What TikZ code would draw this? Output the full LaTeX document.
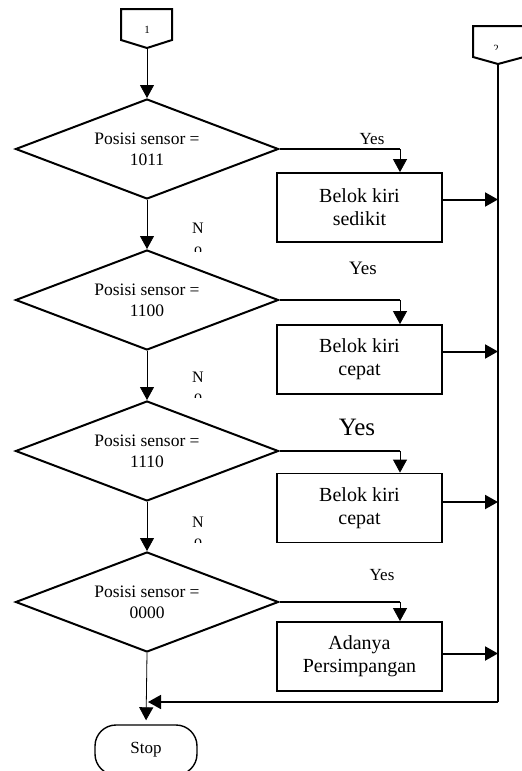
\documentclass[tikz,border=0pt]{standalone}
\usepackage{fontspec}
\setmainfont{Liberation Serif}
\usetikzlibrary{arrows.meta}
\usetikzlibrary{shapes.geometric}

\begin{document}
\begin{tikzpicture}[x=1pt,y=-1pt,
		decision/.style={draw=black,line width=2pt,shape=diamond,aspect=2.63,minimum width=263pt,minimum height=100pt,inner sep=0pt,align=center,font=\fontsize{17.5}{21}\selectfont},
		process/.style={draw=black,line width=1.8pt,minimum width=165pt,minimum height=69pt,inner sep=0pt,align=center,font=\fontsize{20}{23}\selectfont},
		terminal/.style={draw=black,line width=1.4pt,rounded corners=21pt,minimum width=102pt,minimum height=50pt,inner sep=0pt,font=\fontsize{17}{20}\selectfont},
		offpage/.style={draw=black,line width=2pt,line join=miter},
		flow/.style={draw=black,line width=0.8pt,-{Triangle[length=13pt,width=14pt]}},
		thickflow/.style={draw=black,line width=2pt,-{Triangle[length=13pt,width=14pt]}},
		yesline/.style={draw=black,line width=1.7pt},
		label/.style={inner sep=0pt,anchor=base}]

		\useasboundingbox (0,0) rectangle (522,771);

		\draw[offpage] (121,9) -- (172,9) -- (172,40) -- (147,48) -- (121,40) -- cycle;
		\coordinate (c1) at (147,48);
		\node[label,font=\fontsize{11}{13}\selectfont] (n1) at (147,33) {1};

		\draw[offpage] (473,26) -- (524,26) -- (524,57) -- (498,64) -- (473,57) -- cycle;
		\coordinate (c2) at (498,64);
		\begin{scope}
			\clip (480,30) rectangle (515,49);
			\node[label,font=\fontsize{11}{13}\selectfont] (n2) at (496,52) {2};
		\end{scope}

		\node[decision] (d1) at (147,149) {Posisi sensor =\\1011};
		\node[decision] (d2) at (147,300) {Posisi sensor =\\1100};
		\node[decision] (d3) at (147,451) {Posisi sensor =\\1110};
		\node[decision] (d4) at (147,602) {Posisi sensor =\\0000};

		\node[process] (b1) at (359.5,207.5) {Belok kiri\\sedikit};
		\node[process] (b2) at (359.5,359.5) {Belok kiri\\cepat};
		\node[process] (b3) at (359.5,508) {Belok kiri\\cepat};
		\node[process] (b4) at (359.5,656.5) {Adanya\\Persimpangan};

		\node[terminal] (stop) at (146,750) {Stop};

		\draw[flow] (c1) -- (d1.north);
		\draw[flow] (d1.south) -- (d2.north);
		\draw[flow] (d2.south) -- (d3.north);
		\draw[flow] (d3.south) -- (d4.north);
		\draw[flow,shorten >=4pt] (d4.south) -- (stop.north);

		\coordinate (t1) at ([xshift=40.5pt]b1.north);
		\coordinate (t2) at ([xshift=40.5pt]b2.north);
		\coordinate (t3) at ([xshift=40.5pt]b3.north);
		\coordinate (t4) at ([xshift=40.5pt]b4.north);
		\draw[yesline] (d1.east) -- (t1 |- d1.east);
		\draw[flow] (t1 |- d1.east) -- (t1);
		\draw[yesline] (d2.east) -- (t2 |- d2.east);
		\draw[flow] (t2 |- d2.east) -- (t2);
		\draw[yesline] (d3.east) -- (t3 |- d3.east);
		\draw[flow] (t3 |- d3.east) -- (t3);
		\draw[yesline] (d4.east) -- (t4 |- d4.east);
		\draw[flow] (t4 |- d4.east) -- (t4);

		\coordinate (ret) at (498,702);
		\draw[line width=2pt] (c2) -- (ret);
		\draw[thickflow,line width=1.7pt,shorten >=2pt] (ret) -- (ret -| stop.north);

		\coordinate (o1) at ([yshift=8pt]b1.east);
		\coordinate (o2) at ([yshift=8pt]b2.east);
		\coordinate (o3) at ([yshift=6pt]b3.east);
		\coordinate (o4) at ([yshift=3pt]b4.east);
		\draw[thickflow] (o1) -- (o1 -| ret);
		\draw[thickflow] (o2) -- (o2 -| ret);
		\draw[thickflow] (o3) -- (o3 -| ret);
		\draw[thickflow] (o4) -- (o4 -| ret);

		\node[label,font=\fontsize{17}{20}\selectfont] (yes1) at (372,144) {Yes};
		\node[label,font=\fontsize{19}{22}\selectfont] (yes2) at (363,274) {Yes};
		\node[label,font=\fontsize{25}{28}\selectfont] (yes3) at (357,435) {Yes};
		\node[label,font=\fontsize{17}{20}\selectfont] (yes4) at (382,580) {Yes};

		\node[label,font=\fontsize{16}{19}\selectfont] (no1) at (198,233) {N};
		\node[label,font=\fontsize{16}{19}\selectfont] (no2) at (198,382) {N};
		\node[label,font=\fontsize{16}{19}\selectfont] (no3) at (198,527) {N};
		\begin{scope}
			\clip (185,240) rectangle (215,251);
			\node[label,font=\fontsize{16}{19}\selectfont] (o1b) at (198,254) {o};
		\end{scope}
		\begin{scope}
			\clip (185,388) rectangle (215,397);
			\node[label,font=\fontsize{16}{19}\selectfont] (o2b) at (198,401) {o};
		\end{scope}
		\begin{scope}
			\clip (185,534) rectangle (215,542);
			\node[label,font=\fontsize{16}{19}\selectfont] (o3b) at (198,546) {o};
		\end{scope}

\end{tikzpicture}
\end{document}
